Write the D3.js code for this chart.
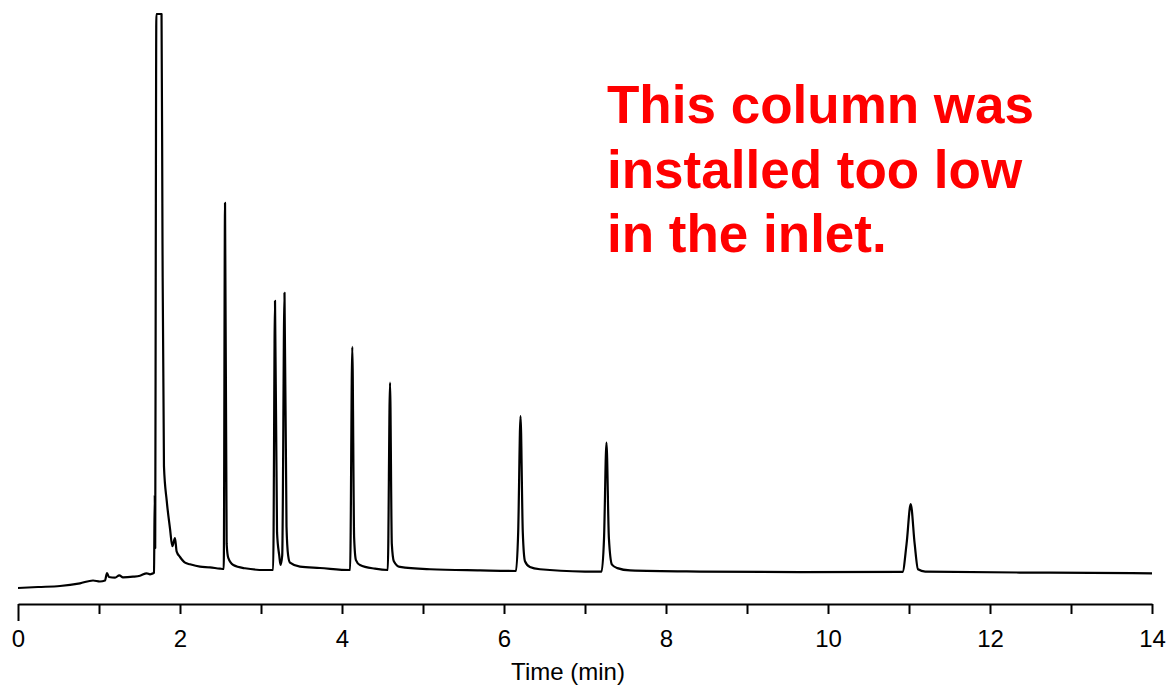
<!DOCTYPE html>
<html>
<head>
<meta charset="utf-8">
<script src="https://cdn.jsdelivr.net/npm/d3@7"></script>
<style>
  body { margin: 0; background: #fff; }
  svg { display: block; font-family: Arial, "Liberation Sans", sans-serif; }
</style>
</head>
<body>
<div id="chart"></div>
<script>
// retention time (min) and detector signal (arbitrary units)
const timeMin = [
  0.000, 0.247, 0.519, 0.765, 0.926, 1.012, 1.074, 1.099, 1.123, 1.198,
  1.251, 1.296, 1.420, 1.506, 1.589, 1.630, 1.670, 1.679, 1.688, 1.694,
  1.701, 1.708, 1.772, 1.784, 1.802, 1.836, 1.877, 1.905, 1.938, 1.959,
  2.000, 2.062, 2.123, 2.247, 2.370, 2.494, 2.540, 2.556, 2.576, 2.596,
  2.658, 2.802, 3.049, 3.150, 3.173, 3.198, 3.225, 3.241, 3.262, 3.290,
  3.315, 3.335, 3.358, 3.481, 3.728, 4.100, 4.127, 4.150, 4.172, 4.222,
  4.407, 4.565, 4.593, 4.615, 4.640, 4.716, 5.086, 5.704, 6.148, 6.175,
  6.204, 6.232, 6.259, 6.320, 6.444, 7.000, 7.204, 7.235, 7.265, 7.295,
  7.333, 7.400, 7.556, 8.420, 9.654, 10.920, 10.970, 11.021, 11.070, 11.111,
  11.200, 12.741, 14.000
];
const signal = [
  0.35, 0.52, 0.69, 1.16, 1.65, 1.48, 1.65, 2.95, 2.26, 2.14,
  2.55, 2.20, 2.31, 2.48, 2.90, 2.73, 2.90, 3.00, 16.5, 7.3,
  60, 150, 150, 60, 21.5, 15.5, 10.6, 7.6, 9.0, 6.65,
  5.73, 4.74, 4.46, 4.05, 3.94, 3.70, 3.65, 67.2, 8.0, 5.56,
  4.34, 3.77, 3.47, 3.47, 50.2, 10.0, 6.0, 4.34, 6.0, 51.6,
  11.0, 6.0, 4.74, 4.05, 3.82, 3.47, 42.2, 9.0, 5.2, 4.34,
  3.70, 3.47, 36.0, 8.0, 5.0, 4.0, 3.6, 3.4, 3.3, 10.0,
  30.2, 10.0, 5.0, 4.0, 3.6, 3.2, 3.18, 9.0, 25.6, 9.0,
  4.4, 3.8, 3.4, 3.2, 3.1, 3.13, 8.0, 14.9, 8.0, 3.6,
  3.2, 3.0, 2.9
];
const xTicks = d3.range(0, 15, 1);
const labelledTicks = [0, 2, 4, 6, 8, 10, 12, 14];
const xLabel = "Time (min)";
const noteLines = ["This column was", "installed too low", "in the inlet."];

const width = 1169, height = 686;

const svg = d3.select("#chart").append("svg")
  .attr("width", width)
  .attr("height", height);

svg.append("rect").attr("width", width).attr("height", height).attr("fill", "#fff");

const x = d3.scaleLinear().domain([0, 14]).range([18, 1152]);
// solvent peak runs off scale, clamp flattens its top
const y = d3.scaleLinear().domain([0, 100]).range([590, 14]).clamp(true);

const points = timeMin.map((t, i) => [t, signal[i]]);

const line = d3.line()
  .x(d => x(d[0]))
  .y(d => y(d[1]))
  .curve(d3.curveMonotoneX);

svg.append("path")
  .datum(points)
  .attr("d", line)
  .attr("fill", "none")
  .attr("stroke", "#000")
  .attr("stroke-width", 2.2)
  .attr("stroke-linejoin", "round");

// x axis
const axis = d3.axisBottom(x)
  .tickValues(xTicks)
  .tickSize(10)
  .tickSizeOuter(0)
  .tickPadding(16)
  .tickFormat(d => labelledTicks.includes(d) ? d : "");

const gx = svg.append("g")
  .attr("transform", "translate(0,604)")
  .call(axis);

gx.select(".domain").attr("stroke", "#000").attr("stroke-width", 2);
gx.selectAll(".tick line").attr("stroke", "#000").attr("stroke-width", 2);
gx.selectAll(".tick line").filter(d => d === 0).attr("y2", 17);
gx.selectAll(".tick text")
  .attr("fill", "#000")
  .style("font-size", "24px")
  .style("font-family", "Arial, 'Liberation Sans', sans-serif");

svg.append("text")
  .attr("x", 568)
  .attr("y", 680)
  .attr("text-anchor", "middle")
  .style("font-size", "24px")
  .attr("fill", "#000")
  .text(xLabel);

// red note
svg.append("g").selectAll("text")
  .data(noteLines)
  .join("text")
  .attr("x", 607)
  .attr("y", (d, i) => 123 + i * 64.5)
  .attr("fill", "#ff0000")
  .style("font-size", "53px")
  .style("font-weight", "bold")
  .text(d => d);
</script>
</body>
</html>
